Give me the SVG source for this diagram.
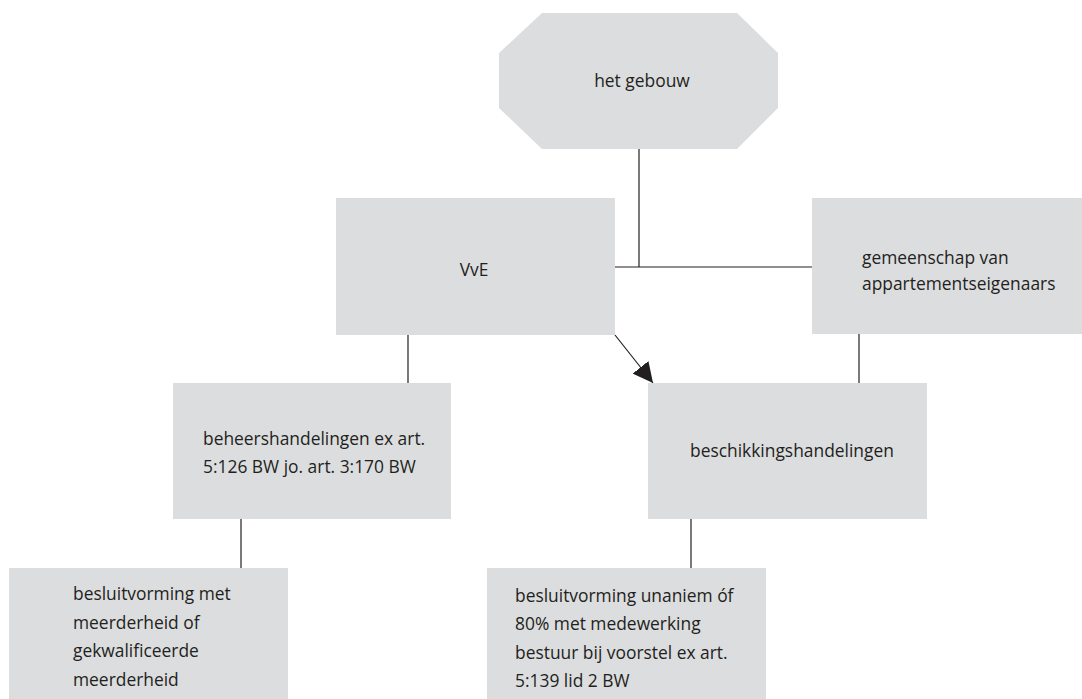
<svg xmlns="http://www.w3.org/2000/svg" width="1082" height="699" viewBox="0 0 1082 699">
<style>
.box{fill:#dcdddf;stroke:none}
.t{font-family:"Open Sans","Noto Sans",sans-serif;font-size:17.4px;fill:#231f20}
.c{stroke:#231f20;stroke-width:1.2;fill:none}
</style>
<defs>
<marker id="arr" viewBox="0 0 20 20" refX="20" refY="10" markerWidth="20" markerHeight="20" markerUnits="userSpaceOnUse" orient="auto">
<path d="M0,0 L20,10 L0,20 z" fill="#231f20"/>
</marker>
</defs>
<rect width="1082" height="699" fill="#ffffff"/>
<g id="connectors">
<line class="c" x1="639" y1="149" x2="639" y2="267"/>
<line class="c" x1="611" y1="267" x2="812" y2="267"/>
<line class="c" x1="408" y1="335" x2="408" y2="383"/>
<line class="c" x1="859" y1="334" x2="859" y2="383"/>
<line class="c" x1="241" y1="519" x2="241" y2="568"/>
<line class="c" x1="691" y1="519" x2="691" y2="568"/>
<line class="c" x1="615" y1="335" x2="653" y2="383" marker-end="url(#arr)"/>
</g>
<g id="gebouw">
<polygon class="box" points="542,13 737,13 778,53 778,108 737,149 542,149 499,108 499,53"/>
<text class="t" x="642" y="87" text-anchor="middle">het gebouw</text>
</g>
<g id="vve">
<rect class="box" x="336" y="198" width="279" height="137"/>
<text class="t" x="474" y="276" text-anchor="middle">VvE</text>
</g>
<g id="gemeenschap">
<rect class="box" x="812" y="198" width="270" height="136"/>
<text class="t" x="862" y="264">gemeenschap van</text>
<text class="t" x="862" y="290">appartementseigenaars</text>
</g>
<g id="beheer">
<rect class="box" x="173" y="383" width="278" height="136"/>
<text class="t" x="203" y="445">beheershandelingen ex art.</text>
<text class="t" x="203" y="473">5:126 BW jo. art. 3:170 BW</text>
</g>
<g id="beschikking">
<rect class="box" x="648" y="383" width="279" height="136"/>
<text class="t" x="690" y="457">beschikkingshandelingen</text>
</g>
<g id="besluit-meerderheid">
<rect class="box" x="9" y="568" width="279" height="131"/>
<text class="t" x="73" y="600">besluitvorming met</text>
<text class="t" x="73" y="628.5">meerderheid of</text>
<text class="t" x="73" y="657">gekwalificeerde</text>
<text class="t" x="73" y="685.5">meerderheid</text>
</g>
<g id="besluit-unaniem">
<rect class="box" x="487" y="568" width="279" height="131"/>
<text class="t" x="515" y="601.5">besluitvorming unaniem óf</text>
<text class="t" x="515" y="630">80% met medewerking</text>
<text class="t" x="515" y="658.5">bestuur bij voorstel ex art.</text>
<text class="t" x="515" y="687">5:139 lid 2 BW</text>
</g>
</svg>
